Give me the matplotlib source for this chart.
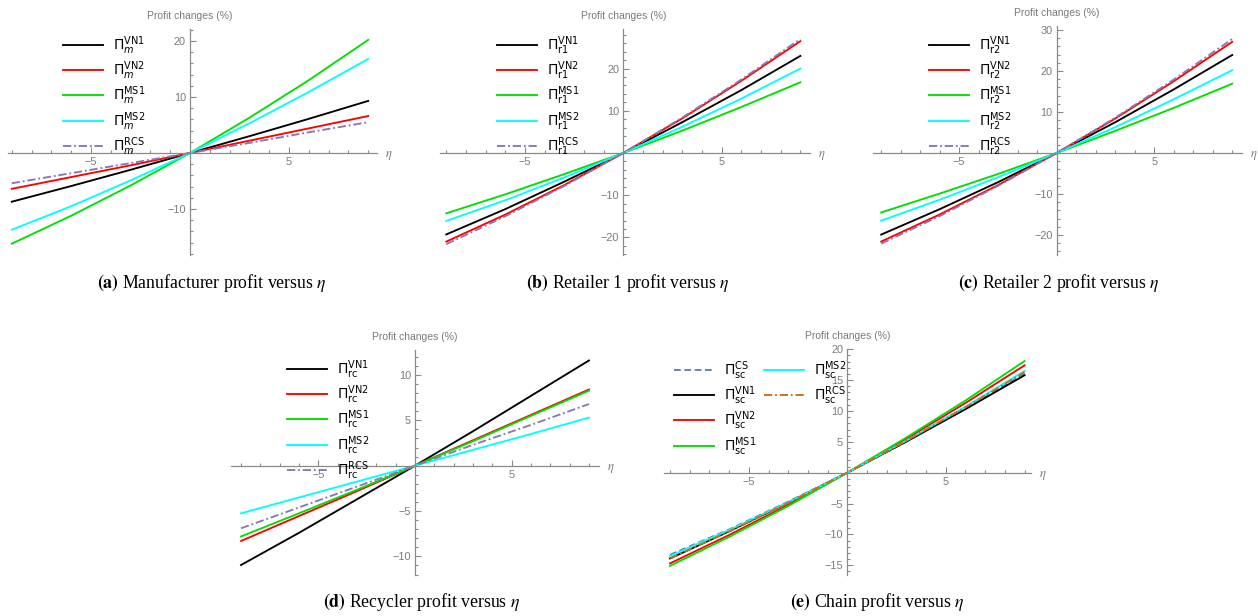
#!/usr/bin/env python3
"""Five profit-change panels (percent) against eta, Mathematica-style axes."""

import matplotlib

matplotlib.use("Agg")
import matplotlib.pyplot as plt
from matplotlib.font_manager import FontProperties
from matplotlib.ticker import FixedLocator, MultipleLocator

W_PX, H_PX = 1258, 616

# sample points along eta
eta = [-9, -6, -3, 0, 3, 6, 9]

# (a) manufacturer
man_vn1 = [-8.7, -5.9, -3.0, 0, 3.0, 6.1, 9.3]
man_vn2 = [-6.4, -4.3, -2.2, 0, 2.2, 4.4, 6.6]
man_ms1 = [-16.2, -11.2, -5.8, 0, 6.3, 13.0, 20.2]
man_ms2 = [-13.7, -9.5, -4.9, 0, 5.3, 10.9, 16.8]
man_rcs = [-5.4, -3.6, -1.8, 0, 1.8, 3.7, 5.5]

# (b) retailer 1
r1_vn1 = [-19.3, -13.3, -6.8, 0, 7.3, 14.9, 23.0]
r1_vn2 = [-21.0, -14.6, -7.6, 0, 8.2, 17.1, 26.5]
r1_ms1 = [-14.3, -9.8, -5.0, 0, 5.3, 10.9, 16.75]
r1_ms2 = [-16.1, -11.2, -5.8, 0, 6.2, 12.9, 20.0]
r1_rcs = [-21.6, -15.0, -7.8, 0, 8.4, 17.4, 27.0]

# (c) retailer 2
r2_vn1 = [-19.9, -13.7, -7.1, 0, 7.5, 15.5, 23.9]
r2_vn2 = [-21.6, -15.0, -7.8, 0, 8.4, 17.5, 27.1]
r2_ms1 = [-14.5, -9.9, -5.1, 0, 5.4, 11.0, 16.9]
r2_ms2 = [-16.5, -11.4, -5.9, 0, 6.3, 13.1, 20.2]
r2_rcs = [-22.1, -15.4, -8.0, 0, 8.6, 17.9, 27.8]

# (d) recycler
rc_vn1 = [-10.95, -7.4, -3.7, 0, 3.8, 7.7, 11.6]
rc_vn2 = [-8.3, -5.55, -2.8, 0, 2.8, 5.6, 8.4]
rc_ms1 = [-7.8, -5.25, -2.65, 0, 2.7, 5.5, 8.27]
rc_ms2 = [-5.25, -3.5, -1.75, 0, 1.75, 3.5, 5.3]
rc_rcs = [-6.9, -4.6, -2.3, 0, 2.3, 4.5, 6.8]

# (e) whole chain
sc_cs = [-13.3, -9.2, -4.7, 0, 5.05, 10.4, 16.1]
sc_vn1 = [-13.9, -9.5, -4.85, 0, 5.05, 10.3, 15.8]
sc_vn2 = [-14.7, -10.1, -5.2, 0, 5.5, 11.3, 17.4]
sc_ms1 = [-15.1, -10.4, -5.4, 0, 5.7, 11.7, 18.1]
sc_ms2 = [-13.5, -9.3, -4.8, 0, 5.2, 10.7, 16.5]
sc_rcs = [-13.9, -9.5, -4.9, 0, 5.2, 10.6, 16.3]

AXIS_GRAY = "#8a8a8a"
LABEL_GRAY = "#7a7a7a"
LW = 1.35

STYLE = {
    "vn1": dict(color="#000000", ls="-"),
    "vn2": dict(color="#ff0000", ls="-"),
    "ms1": dict(color="#00e000", ls="-"),
    "ms2": dict(color="#00ffff", ls="-"),
    "rcs": dict(color="#8778b3", ls=(0, (4.4, 1.5, 1.0, 1.5))),
    "cs": dict(color="#5e81b5", ls=(0, (3.6, 1.9))),
    "rcs_e": dict(color="#c56e1a", ls=(0, (4.4, 1.5, 1.0, 1.5))),
}

plt.rcParams.update(
    {
        "font.family": "Liberation Sans",
        "mathtext.fontset": "dejavusans",
    }
)


def legend_label(sub: str, sup: str) -> str:
    return rf"$\Pi_{{{sub}}}^{{\mathrm{{{sup}}}}}$"


def place_axes(fig, ox, oy, sx, sy, xlim, ylim):
    # ox, oy: pixel position of the origin; sx, sy: pixels per unit
    left = ox + xlim[0] * sx
    top = oy - ylim[1] * sy
    width = (xlim[1] - xlim[0]) * sx
    height = (ylim[1] - ylim[0]) * sy
    ax = fig.add_axes([left / W_PX, 1 - (top + height) / H_PX, width / W_PX, height / H_PX])
    ax.set_xlim(*xlim)
    ax.set_ylim(*ylim)
    return ax


def style_axis(ax, yticks, yminor):
    ax.patch.set_alpha(0)
    for side in ("top", "right"):
        ax.spines[side].set_visible(False)
    for side in ("left", "bottom"):
        ax.spines[side].set_position(("data", 0))
        ax.spines[side].set_color(AXIS_GRAY)
        ax.spines[side].set_linewidth(0.9)
    ax.xaxis.set_major_locator(FixedLocator([-5, 5]))
    ax.xaxis.set_minor_locator(MultipleLocator(1))
    ax.yaxis.set_major_locator(FixedLocator(yticks))
    ax.yaxis.set_minor_locator(MultipleLocator(yminor))
    ax.tick_params(which="both", direction="in", color=AXIS_GRAY, labelcolor=LABEL_GRAY,
                   labelsize=7.8, width=0.8)
    ax.tick_params(which="major", length=4.5, pad=3)
    ax.tick_params(which="minor", length=2.5)
    ax.annotate("Profit changes (%)", xy=(0, 1), xycoords=("data", "axes fraction"),
                xytext=(0, 8), textcoords="offset pixels", ha="center", va="bottom",
                fontsize=7.5, color=LABEL_GRAY)
    ax.annotate(r"$\eta$", xy=(1, 0), xycoords=("axes fraction", "data"),
                xytext=(8, -3), textcoords="offset pixels", ha="left", va="center",
                fontsize=9, color=LABEL_GRAY, math_fontfamily="stix")


def draw_lines(ax, series):
    handles = []
    for values, key, label in series:
        st = STYLE[key]
        (line,) = ax.plot(eta, values, color=st["color"], ls=st["ls"], lw=LW, label=label)
        handles.append(line)
    return handles


def add_legend(fig, ax, handles, x_px, y_px):
    prop = FontProperties(family="Liberation Sans", size=10, math_fontfamily="dejavusans")
    leg = ax.legend(handles=handles, loc="upper left",
                    bbox_to_anchor=(x_px / W_PX, 1 - y_px / H_PX),
                    bbox_transform=fig.transFigure, frameon=False, prop=prop,
                    borderpad=0, borderaxespad=0, handlelength=2.9,
                    handletextpad=0.7, labelspacing=0.2)
    return leg


def caption(fig, x_px, y_px, tag, text):
    fig.text(x_px / W_PX, 1 - y_px / H_PX, rf"$\mathbf{{({tag})}}$ {text} $\eta$",
             ha="center", va="center", fontsize=12.8, family="Liberation Serif",
             math_fontfamily="stix")


def main():
    fig = plt.figure(figsize=(W_PX / 100, H_PX / 100), dpi=100)
    fig.patch.set_facecolor("white")

    # (a) manufacturer
    ax = place_axes(fig, 190, 153, 19.8, 5.6, (-9.2, 9.45), (-18.2, 22.1))
    style_axis(ax, [-10, 10, 20], 2)
    h = draw_lines(ax, [
        (man_vn1, "vn1", legend_label("m", "VN1")),
        (man_vn2, "vn2", legend_label("m", "VN2")),
        (man_ms1, "ms1", legend_label("m", "MS1")),
        (man_ms2, "ms2", legend_label("m", "MS2")),
        (man_rcs, "rcs", legend_label("m", "RCS")),
    ])
    add_legend(fig, ax, h, 63, 34)
    caption(fig, 212, 283, "a", "Manufacturer profit versus")

    # (b) retailer 1
    ax = place_axes(fig, 623.3, 153, 19.67, 4.22, (-9.3, 9.5), (-24.2, 29.3))
    style_axis(ax, [-20, -10, 10, 20], 2)
    h = draw_lines(ax, [
        (r1_vn1, "vn1", legend_label(r"\mathrm{r1}", "VN1")),
        (r1_vn2, "vn2", legend_label(r"\mathrm{r1}", "VN2")),
        (r1_ms1, "ms1", legend_label(r"\mathrm{r1}", "MS1")),
        (r1_ms2, "ms2", legend_label(r"\mathrm{r1}", "MS2")),
        (r1_rcs, "rcs", legend_label(r"\mathrm{r1}", "RCS")),
    ])
    add_legend(fig, ax, h, 496.7, 34)
    caption(fig, 628, 283, "b", "Retailer 1 profit versus")

    # (c) retailer 2
    ax = place_axes(fig, 1056.7, 153, 19.5, 4.1, (-9.4, 9.5), (-24.9, 31))
    style_axis(ax, [-20, -10, 10, 20, 30], 2)
    h = draw_lines(ax, [
        (r2_vn1, "vn1", legend_label(r"\mathrm{r2}", "VN1")),
        (r2_vn2, "vn2", legend_label(r"\mathrm{r2}", "VN2")),
        (r2_ms1, "ms1", legend_label(r"\mathrm{r2}", "MS1")),
        (r2_ms2, "ms2", legend_label(r"\mathrm{r2}", "MS2")),
        (r2_rcs, "rcs", legend_label(r"\mathrm{r2}", "RCS")),
    ])
    add_legend(fig, ax, h, 929, 34)
    caption(fig, 1059, 283, "c", "Retailer 2 profit versus")

    # (d) recycler
    ax = place_axes(fig, 415, 465.7, 19.33, 9.07, (-9.5, 9.5), (-12.1, 12.8))
    style_axis(ax, [-10, -5, 5, 10], 1)
    h = draw_lines(ax, [
        (rc_vn1, "vn1", legend_label(r"\mathrm{rc}", "VN1")),
        (rc_vn2, "vn2", legend_label(r"\mathrm{rc}", "VN2")),
        (rc_ms1, "ms1", legend_label(r"\mathrm{rc}", "MS1")),
        (rc_ms2, "ms2", legend_label(r"\mathrm{rc}", "MS2")),
        (rc_rcs, "rcs", legend_label(r"\mathrm{rc}", "RCS")),
    ])
    add_legend(fig, ax, h, 287, 358)
    caption(fig, 422, 602, "d", "Recycler profit versus")

    # (e) chain
    ax = place_axes(fig, 847.3, 472.7, 19.7, 6.17, (-9.3, 9.3), (-16.6, 20.0))
    style_axis(ax, [-15, -10, -5, 5, 10, 15, 20], 1)
    h = draw_lines(ax, [
        (sc_cs, "cs", legend_label(r"\mathrm{sc}", "CS")),
        (sc_vn1, "vn1", legend_label(r"\mathrm{sc}", "VN1")),
        (sc_vn2, "vn2", legend_label(r"\mathrm{sc}", "VN2")),
        (sc_ms1, "ms1", legend_label(r"\mathrm{sc}", "MS1")),
        (sc_ms2, "ms2", legend_label(r"\mathrm{sc}", "MS2")),
        (sc_rcs, "rcs_e", legend_label(r"\mathrm{sc}", "RCS")),
    ])
    first = add_legend(fig, ax, h[:4], 674, 359)
    ax.add_artist(first)
    add_legend(fig, ax, h[4:], 764, 359)
    caption(fig, 877, 602, "e", "Chain profit versus")

    fig.savefig("out.png", dpi=100)


if __name__ == "__main__":
    main()
